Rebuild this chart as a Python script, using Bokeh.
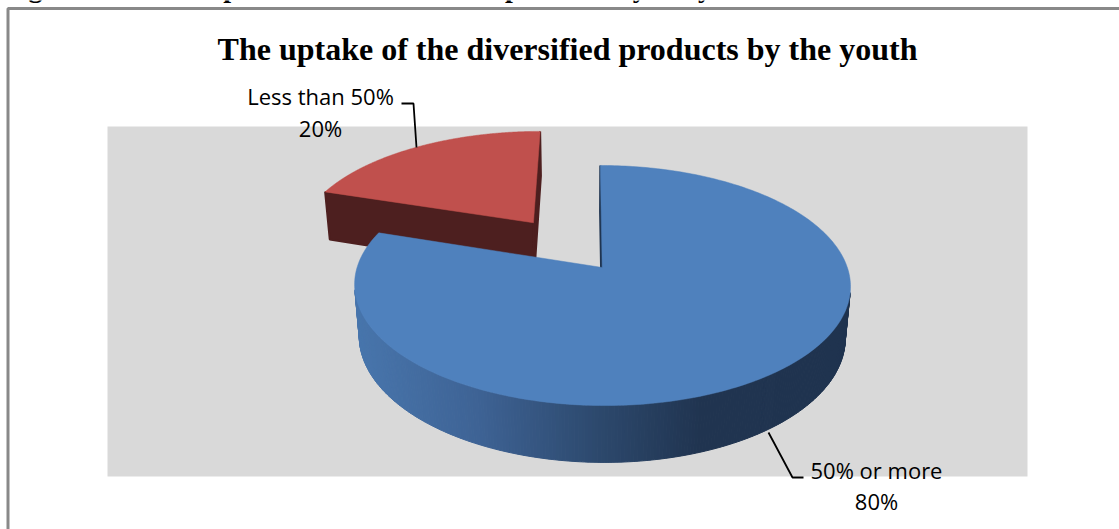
import numpy as np
from bokeh.plotting import figure
from bokeh.models import Range1d
from bokeh.core.properties import value
from bokeh.embed import file_html
from bokeh.resources import INLINE

# ---------------- data ----------------
categories = ["50% or more", "Less than 50%"]
shares = [80, 20]
explode = [0.0, 0.5]
title_text = "The uptake of the diversified products by the youth"
caption_text = "Figure 4.10: The uptake of the diversified products by the youth"

# ---------------- styles ----------------
top_colors = ["#4F81BD", "#C0504D"]
face_colors = ["#1F3450", "#4D1F1F"]
side_stops = [
    [(0.0, (72, 118, 173)), (0.25, (62, 99, 149)), (0.5, (44, 72, 108)), (0.7, (32, 52, 80)), (1.0, (31, 51, 79))],
    [(0.0, (90, 36, 36)), (1.0, (77, 31, 31))],
]
W, H = 1119, 529

# ---------------- 3D projection ----------------
D = 5.85
COSP = 0.878
SINP = np.sqrt(1 - COSP ** 2)
F = 1434.0
THICK = 0.2425
CX = 0.06
X0, Y0 = 587.0, 267.0


def proj(X, Y, Z):
    X = np.asarray(X, float); Y = np.asarray(Y, float); Z = np.asarray(Z, float)
    depth = D + Y * COSP - Z * SINP
    sx = X0 + F * (X + CX) / depth
    sy = Y0 - F * (Y * SINP + Z * COSP) / depth
    return sx, sy


def grad(stops, t):
    t = min(max(t, 0.0), 1.0)
    for (t0, c0), (t1, c1) in zip(stops[:-1], stops[1:]):
        if t <= t1:
            f = 0 if t1 == t0 else (t - t0) / (t1 - t0)
            c = [int(round(a + (b - a) * f)) for a, b in zip(c0, c1)]
            return "#%02x%02x%02x" % tuple(c)
    return "#%02x%02x%02x" % stops[-1][1]


p = figure(width=W, height=H, x_range=Range1d(0, W), y_range=Range1d(H, 0),
           x_axis_type=None, y_axis_type=None, toolbar_location=None,
           output_backend="svg", min_border=0, outline_line_color=None,
           background_fill_color="white", border_fill_color="white")
p.grid.visible = False

# plot area
p.quad(left=[107], right=[1027], top=[126], bottom=[476], fill_color="#D9D9D9", line_color=None)

total = float(sum(shares))
wedges = []
a0 = 0.0
for i, s in enumerate(shares):
    a1 = a0 + 360.0 * s / total
    mid = np.radians((a0 + a1) / 2)
    ex, ey = explode[i] * np.sin(mid), explode[i] * np.cos(mid)
    wedges.append((i, np.radians(a0), np.radians(a1), ex, ey))
    a0 = a1

# far wedges first
wedges.sort(key=lambda w: -w[4])
CAMX, CAMY = -CX, -D * COSP

for i, r0, r1, ex, ey in wedges:
    # outer side
    n = max(int(np.degrees(r1 - r0) * 1.5), 4)
    th = np.linspace(r0, r1, n + 1)
    xs_l, ys_l, cols = [], [], []
    for k in range(n):
        tm = (th[k] + th[k + 1]) / 2
        nx, ny = np.sin(tm), np.cos(tm)
        dot = nx * (CAMX - ex - nx) + ny * (CAMY - ey - ny)
        if dot <= 0:
            continue
        tt = np.array([th[k], th[k + 1], th[k + 1], th[k]])
        zz = np.array([0, 0, -THICK, -THICK])
        sx, sy = proj(ex + np.sin(tt), ey + np.cos(tt), zz)
        xs_l.append(list(sx)); ys_l.append(list(sy))
        t = (np.mean(sx) - 352.0) / 496.0
        cols.append(grad(side_stops[i], t))
    if xs_l:
        p.patches(xs_l, ys_l, fill_color=cols, line_color=cols, line_width=1)
    # radial faces
    for ang, nvec in ((r0, (-np.cos(r0), np.sin(r0))), (r1, (np.cos(r1), -np.sin(r1)))):
        dot = nvec[0] * (CAMX - ex) + nvec[1] * (CAMY - ey)
        if dot <= 0:
            continue
        X = [ex, ex + np.sin(ang), ex + np.sin(ang), ex]
        Y = [ey, ey + np.cos(ang), ey + np.cos(ang), ey]
        Z = [0, 0, -THICK, -THICK]
        sx, sy = proj(X, Y, Z)
        p.patch(list(sx), list(sy), fill_color=face_colors[i], line_color=face_colors[i], line_width=2)
    # top face
    th = np.linspace(r0, r1, 300)
    X = np.concatenate([[ex], ex + np.sin(th)])
    Y = np.concatenate([[ey], ey + np.cos(th)])
    sx, sy = proj(X, Y, np.zeros_like(X))
    p.patch(list(sx), list(sy), fill_color=top_colors[i], line_color=top_colors[i], line_width=0.5)

# ---------------- labels ----------------
label_font = value("Open Sans")
label_pos = {1: (320, 95, 127), 0: (876, 469, 500)}
leaders = {1: ([401, 413, 416], [103, 103, 147]), 0: ([768, 792, 803], [432, 477, 477])}
for i, cat in enumerate(categories):
    pct = int(round(100 * shares[i] / total))
    cx_, y1, y2 = label_pos[i]
    p.text(x=[cx_, cx_], y=[y1, y2], text=[cat, f"{pct}%"], text_font=label_font,
           text_font_size="22px", text_color="#000000", text_align="center",
           text_baseline="alphabetic")
    lx, ly = leaders[i]
    p.line(lx, ly, line_color="#000000", line_width=1.8)

# title
p.text(x=[567], y=[48], text=[title_text], text_font=value("Liberation Serif"),
       text_font_style="bold", text_font_size="32px", text_color="#000000",
       text_align="center", text_baseline="alphabetic")
# caption (cut off at top, as in the source page)
p.text(x=[3], y=[-13], text=[caption_text], text_font=value("Liberation Serif"),
       text_font_style="bold", text_font_size="28px", text_color="#000000",
       text_align="left", text_baseline="alphabetic")

# frame border
p.line([7.5, 7.5, W + 5], [H + 5, 8, 8], line_color="#898989", line_width=3)

open("out.html", "w").write(file_html(p, INLINE))
